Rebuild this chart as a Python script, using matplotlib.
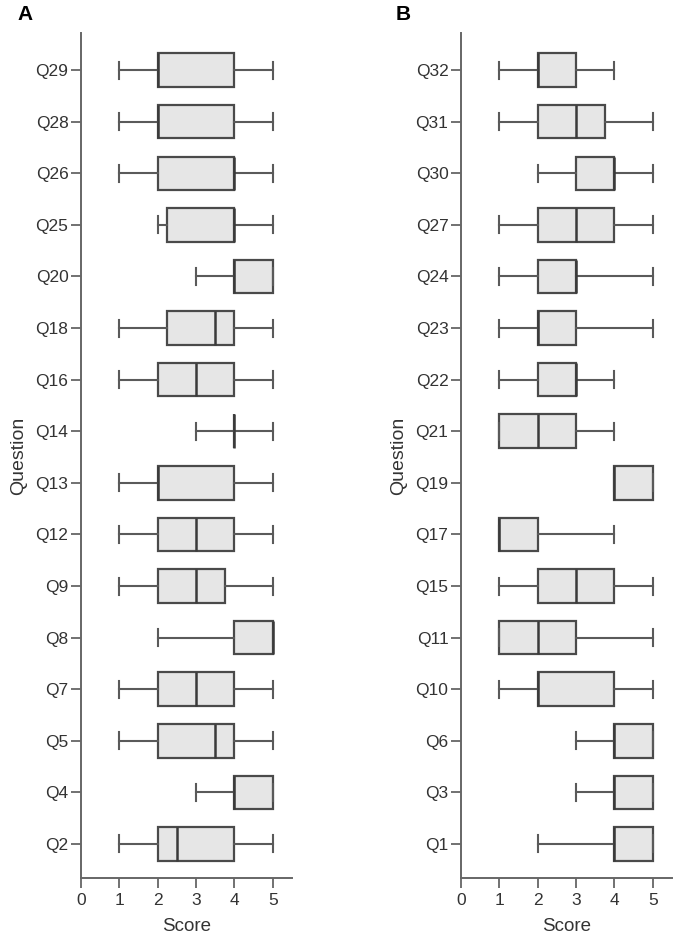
import matplotlib
matplotlib.use("Agg")
from matplotlib import pyplot as plt

plt.rcParams["font.family"] = ["Liberation Sans", "DejaVu Sans"]

# panel A, listed bottom to top
questionsA = ["Q2", "Q4", "Q5", "Q7", "Q8", "Q9", "Q12", "Q13",
              "Q14", "Q16", "Q18", "Q20", "Q25", "Q26", "Q28", "Q29"]
whisloA = [1, 3, 1, 1, 2, 1, 1, 1, 3, 1, 1, 3, 2, 1, 1, 1]
q1A = [2, 4, 2, 2, 4, 2, 2, 2, 4, 2, 2.25, 4, 2.25, 2, 2, 2]
medA = [2.5, 4, 3.5, 3, 5, 3, 3, 2, 4, 3, 3.5, 4, 4, 4, 2, 2]
q3A = [4, 5, 4, 4, 5, 3.75, 4, 4, 4, 4, 4, 5, 4, 4, 4, 4]
whishiA = [5, 5, 5, 5, 5, 5, 5, 5, 5, 5, 5, 5, 5, 5, 5, 5]

# panel B, listed bottom to top
questionsB = ["Q1", "Q3", "Q6", "Q10", "Q11", "Q15", "Q17", "Q19",
              "Q21", "Q22", "Q23", "Q24", "Q27", "Q30", "Q31", "Q32"]
whisloB = [2, 3, 3, 1, 1, 1, 1, 4, 1, 1, 1, 1, 1, 2, 1, 1]
q1B = [4, 4, 4, 2, 1, 2, 1, 4, 1, 2, 2, 2, 2, 3, 2, 2]
medB = [4, 4, 4, 2, 2, 3, 1, 4, 2, 3, 2, 3, 3, 4, 3, 2]
q3B = [5, 5, 5, 4, 3, 4, 2, 5, 3, 3, 3, 3, 4, 4, 3.75, 3]
whishiB = [5, 5, 5, 5, 5, 5, 4, 5, 4, 4, 5, 5, 5, 5, 5, 4]

xticks = [0, 1, 2, 3, 4, 5]
text_col = "#333333"
line_col = "#4a4a4a"


def panel(ax, labels, lo, q1, med, q3, hi):
    stats = []
    for i in range(len(labels)):
        stats.append({"whislo": lo[i], "q1": q1[i], "med": med[i],
                      "q3": q3[i], "whishi": hi[i], "label": labels[i]})
    pos = list(range(1, len(labels) + 1))
    ax.bxp(stats, positions=pos, vert=False, widths=0.65, capwidths=0.33,
           showfliers=False, patch_artist=True,
           boxprops=dict(facecolor="#e6e6e6", edgecolor=line_col, linewidth=1.6),
           medianprops=dict(color="#3a3a3a", linewidth=1.8),
           whiskerprops=dict(color="#5a5a5a", linewidth=1.5),
           capprops=dict(color="#5a5a5a", linewidth=1.5))
    ax.set_xlim(0, 5.5)
    ax.set_ylim(0.34, 16.72)
    ax.set_xticks(xticks)
    ax.set_xticklabels([str(t) for t in xticks])
    ax.set_yticks(pos)
    ax.set_yticklabels(labels)
    for s in ["top", "right"]:
        ax.spines[s].set_visible(False)
    for s in ["left", "bottom"]:
        ax.spines[s].set_color("#666666")
        ax.spines[s].set_linewidth(1.4)
    ax.tick_params(axis="y", length=7, width=1.3, color="#666666",
                   labelsize=12.5, labelcolor=text_col, pad=2)
    ax.tick_params(axis="x", length=7, width=1.3, color="#666666",
                   labelsize=12.5, labelcolor=text_col, pad=4)
    ax.set_xlabel("Score", fontsize=13.5, color=text_col, labelpad=7)
    ax.set_ylabel("Question", fontsize=14, color=text_col, labelpad=6)


fig = plt.figure(figsize=(6.76, 9.35), dpi=100)
axA = fig.add_axes([81 / 676, 57 / 935, 211 / 676, 845 / 935])
axB = fig.add_axes([461 / 676, 57 / 935, 211 / 676, 845 / 935])
panel(axA, questionsA, whisloA, q1A, medA, q3A, whishiA)
panel(axB, questionsB, whisloB, q1B, medB, q3B, whishiB)

fig.text(17 / 676, 1 - 5 / 935, "A", fontsize=15, fontweight="bold", va="top", ha="left")
fig.text(396 / 676, 1 - 5 / 935, "B", fontsize=15, fontweight="bold", va="top", ha="left")

fig.savefig("out.png", dpi=100)
